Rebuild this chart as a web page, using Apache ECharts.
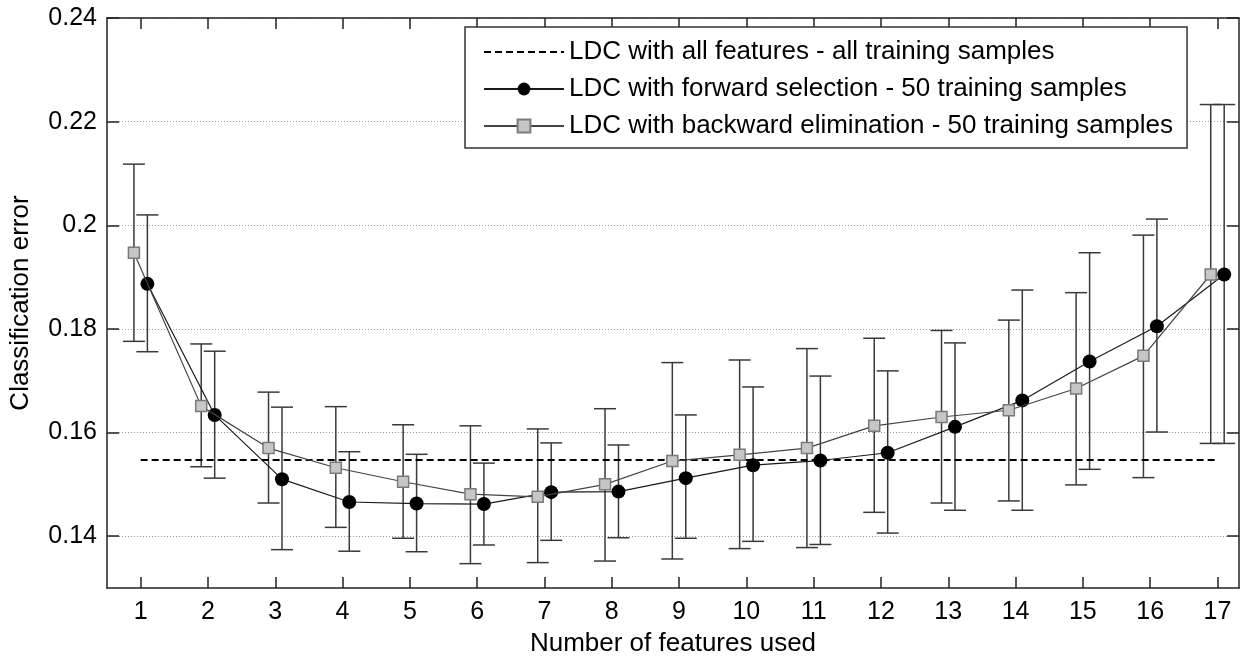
<!DOCTYPE html>
<html>
    <head>
        <meta charset="UTF-8">
        <style>
            html, body { margin: 0; padding: 0; background: #fff; }
        </style>
    </head>
    <body>
        <div id="container" style="width: 1240px;height: 657px"></div>
        <script type="text/javascript" src="https://cdn.jsdelivr.net/npm/echarts@6/dist/echarts.min.js"></script>
        <script type="text/javascript">
        // number of features used
        var features = [1, 2, 3, 4, 5, 6, 7, 8, 9, 10, 11, 12, 13, 14, 15, 16, 17];
        var yTicks = [0.14, 0.16, 0.18, 0.2, 0.22, 0.24];

        // LDC with all features - all training samples
        var allFeaturesError = 0.1547;

        // forward selection: mean and error bar ends
        var fwdMean = [0.1887, 0.1634, 0.1510, 0.1466, 0.1463, 0.1462, 0.1485, 0.1486, 0.1512, 0.1537, 0.1546, 0.1561, 0.1611, 0.1662, 0.1737, 0.1805, 0.1905];
        var fwdLow  = [0.1756, 0.1512, 0.1374, 0.1371, 0.1370, 0.1383, 0.1392, 0.1397, 0.1396, 0.1390, 0.1384, 0.1406, 0.1450, 0.1450, 0.1529, 0.1601, 0.1579];
        var fwdHigh = [0.2020, 0.1757, 0.1649, 0.1563, 0.1558, 0.1541, 0.1580, 0.1576, 0.1634, 0.1688, 0.1709, 0.1719, 0.1773, 0.1875, 0.1947, 0.2012, 0.2233];

        // backward elimination: mean and error bar ends
        var bwdMean = [0.1947, 0.1651, 0.1570, 0.1532, 0.1505, 0.1481, 0.1476, 0.1500, 0.1545, 0.1557, 0.1570, 0.1613, 0.1630, 0.1643, 0.1685, 0.1748, 0.1905];
        var bwdLow  = [0.1776, 0.1534, 0.1464, 0.1417, 0.1396, 0.1347, 0.1349, 0.1352, 0.1356, 0.1376, 0.1378, 0.1446, 0.1464, 0.1468, 0.1499, 0.1513, 0.1579];
        var bwdHigh = [0.2118, 0.1771, 0.1678, 0.1650, 0.1615, 0.1613, 0.1607, 0.1646, 0.1735, 0.1740, 0.1762, 0.1782, 0.1797, 0.1817, 0.1870, 0.1981, 0.2233];

        var names = [
            'LDC with all features - all training samples',
            'LDC with forward selection - 50 training samples',
            'LDC with backward elimination - 50 training samples'
        ];

        var FONT = '"Liberation Sans", Arial, sans-serif';
        var SHIFT = 0.1; // the two series are drawn a bit apart

        function points(mean, dx) {
            return features.map(function (f, i) { return [f + dx, mean[i]]; });
        }
        function bars(low, high, dx) {
            return features.map(function (f, i) { return [f + dx, low[i], high[i]]; });
        }

        function errorBar(params, api) {
            var x = api.value(0);
            var lo = api.coord([x, api.value(1)]);
            var hi = api.coord([x, api.value(2)]);
            var w = 11;
            var st = { stroke: '#3a3a3a', lineWidth: 1.5 };
            return {
                type: 'group',
                children: [
                    { type: 'line', shape: { x1: lo[0], y1: lo[1], x2: hi[0], y2: hi[1] }, style: st },
                    { type: 'line', shape: { x1: lo[0] - w, y1: lo[1], x2: lo[0] + w, y2: lo[1] }, style: st },
                    { type: 'line', shape: { x1: hi[0] - w, y1: hi[1], x2: hi[0] + w, y2: hi[1] }, style: st }
                ]
            };
        }

        function xAxis(pos, labels) {
            return {
                type: 'value', position: pos, min: 0.5, max: 17.32,
                axisLine: { show: true, onZero: false, lineStyle: { color: '#222', width: 1.5 } },
                axisTick: { show: true, inside: true, length: 11, customValues: features, lineStyle: { color: '#222', width: 1.5 } },
                axisLabel: { show: labels, customValues: features, margin: 12, color: '#000', fontSize: 25, fontFamily: FONT },
                splitLine: { show: false }
            };
        }
        function yAxis(pos, labels) {
            return {
                type: 'value', position: pos, min: 0.13, max: 0.24,
                axisLine: { show: true, onZero: false, lineStyle: { color: '#222', width: 1.5 } },
                axisTick: { show: true, inside: true, length: 12, customValues: yTicks, lineStyle: { color: '#222', width: 1.5 } },
                axisLabel: { show: labels, customValues: yTicks, margin: 10, color: '#000', fontSize: 25, fontFamily: FONT },
                splitLine: { show: labels, lineStyle: { color: '#9a9a9a', type: [1, 2], width: 1 } }
            };
        }

        var myChart = echarts.init(document.getElementById('container'));

        var xb = xAxis('bottom', true);
        xb.name = 'Number of features used';
        xb.nameLocation = 'middle';
        xb.nameGap = 43;
        xb.nameTextStyle = { color: '#000', fontSize: 26, fontFamily: FONT };
        var yl = yAxis('left', true);
        yl.name = 'Classification error';
        yl.nameLocation = 'middle';
        yl.nameGap = 73;
        yl.nameTextStyle = { color: '#000', fontSize: 26, fontFamily: FONT };

        var option = {
            animation: false,
            backgroundColor: '#fff',
            grid: { left: 107, top: 18, right: 1, bottom: 69, outerBoundsMode: 'none' },
            xAxis: [xb, xAxis('top', false)],
            yAxis: [yl, yAxis('right', false)],
            legend: {
                orient: 'vertical',
                left: 465,
                top: 27,
                data: [
                    { name: names[0], itemStyle: { color: 'rgba(0,0,0,0)', borderWidth: 0 } },
                    { name: names[1] },
                    { name: names[2] }
                ],
                selectedMode: false,
                itemWidth: 80,
                itemHeight: 16,
                itemGap: 11,
                padding: [12, 14, 9, 18],
                borderColor: '#333',
                borderWidth: 1.5,
                borderRadius: 0,
                backgroundColor: '#fff',
                textStyle: { color: '#000', fontSize: 26, fontFamily: FONT }
            },
            series: [
                {
                    name: 'bwdErr', type: 'custom', renderItem: errorBar, z: 1,
                    encode: { x: 0, y: [1, 2] }, data: bars(bwdLow, bwdHigh, -SHIFT)
                },
                {
                    name: 'fwdErr', type: 'custom', renderItem: errorBar, z: 1,
                    encode: { x: 0, y: [1, 2] }, data: bars(fwdLow, fwdHigh, SHIFT)
                },
                {
                    name: names[0], type: 'line', symbol: 'none', z: 3,
                    lineStyle: { color: '#000', width: 2.2, type: [7, 4] },
                    itemStyle: { color: '#000' },
                    data: [[features[0], allFeaturesError], [features[features.length - 1], allFeaturesError]]
                },
                {
                    name: names[1], type: 'line', symbol: 'circle', symbolSize: 14, z: 4,
                    lineStyle: { color: '#1a1a1a', width: 1.2 },
                    itemStyle: { color: '#000', borderColor: '#000', borderWidth: 0 },
                    data: points(fwdMean, SHIFT)
                },
                {
                    name: names[2], type: 'line', symbol: 'rect', symbolSize: 11, z: 5,
                    lineStyle: { color: '#444', width: 1.2 },
                    itemStyle: { color: '#c6c6c6', borderColor: '#7a7a7a', borderWidth: 1.5 },
                    data: points(bwdMean, -SHIFT)
                }
            ]
        };
        myChart.setOption(option);
        </script>
    </body>
</html>
